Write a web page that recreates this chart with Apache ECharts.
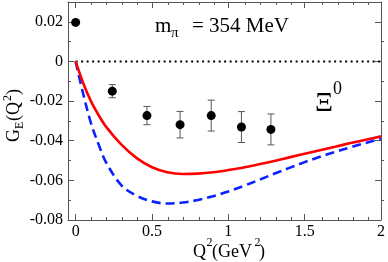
<!DOCTYPE html>
<html><head><meta charset="utf-8">
<script src="https://cdn.jsdelivr.net/npm/echarts@6/dist/echarts.min.js"></script>
<style>html,body{margin:0;padding:0;background:#fff}#c{width:388px;height:262px}</style>
</head><body><div id="c"></div>
<script>
// ---- data ----
const curveQ2 = [0,0.05,0.1,0.15,0.2,0.3,0.4,0.5,0.6,0.7,0.8,0.9,1.0,1.1,1.2,1.3,1.4,1.5,1.6,1.7,1.8,1.9,2.0];
const redGE  = [0,-0.011,-0.020,-0.027,-0.033,-0.042,-0.0488,-0.0534,-0.0559,-0.0568,-0.0566,-0.0559,-0.0548,-0.0535,-0.0519,-0.0502,-0.0484,-0.0466,-0.0448,-0.0430,-0.0412,-0.0395,-0.0378];
const blueGE = [0,-0.0165,-0.031,-0.0418,-0.051,-0.0625,-0.0678,-0.0706,-0.0717,-0.0712,-0.0699,-0.0680,-0.0656,-0.0628,-0.0598,-0.0567,-0.0537,-0.0508,-0.0481,-0.0456,-0.0433,-0.0411,-0.0391];
const latticeQ2  = [0, 0.24, 0.467, 0.684, 0.888, 1.086, 1.279];
const latticeGE  = [0.0197, -0.0150, -0.0273, -0.0319, -0.0273, -0.0331, -0.0343];
const latticeErr = [0.0005, 0.0033, 0.0046, 0.0067, 0.0078, 0.0078, 0.0078];
const zeroLineQ2 = [0, 2];
const xMajor = [0, 0.5, 1, 1.5, 2];
const xMinor = [0.1,0.2,0.3,0.4,0.6,0.7,0.8,0.9,1.1,1.2,1.3,1.4,1.6,1.7,1.8,1.9];
const yMajor = [-0.08,-0.06,-0.04,-0.02,0,0.02];
const yMinor = [-0.07,-0.05,-0.03,-0.01,0.01];
const xRange = [-0.05, 2];
const yRange = [-0.08, 0.03];

const chart = echarts.init(document.getElementById('c'), null, {renderer:'canvas'});
const FONT = '"Liberation Serif","Times New Roman",serif';
const AX = '#555';
const gridRect = {left:68, right:4, top:2, bottom:42, containLabel:false};
const fmt = v => String(parseFloat(Number(v).toFixed(3)));

function xAx(grid, pos, major) {
  return {
    type:'value', gridIndex:grid, position:pos, min:xRange[0], max:xRange[1],
    axisLine:{show:major, onZero:false, lineStyle:{color:AX, width:1}},
    axisTick:{show:true, inside:true, length: major?6:3, lineStyle:{color:AX}, customValues: major?xMajor:xMinor},
    axisLabel:{show: major && pos==='bottom', customValues:xMajor, formatter:fmt, color:'#000', fontFamily:FONT, fontSize:16, margin:4},
    splitLine:{show:false}
  };
}
function yAx(grid, pos, major) {
  return {
    type:'value', gridIndex:grid, position:pos, min:yRange[0], max:yRange[1],
    axisLine:{show:major, onZero:false, lineStyle:{color:AX, width:1}},
    axisTick:{show:true, inside:true, length: major?6:3, lineStyle:{color:AX}, customValues: major?yMajor:yMinor},
    axisLabel:{show: major && pos==='left', customValues:yMajor, formatter:fmt, color:'#000', fontFamily:FONT, fontSize:16, margin:5},
    splitLine:{show:false}
  };
}

const redData = curveQ2.map((x,i)=>[x, redGE[i]]);
const blueData = curveQ2.map((x,i)=>[x, blueGE[i]]);
const ptsData = latticeQ2.map((x,i)=>[x, latticeGE[i]]);
const errData = latticeQ2.map((x,i)=>[x, latticeGE[i], latticeErr[i]]);

function txt(x, y, s, size, extra) {
  return Object.assign({type:'text', x:x, y:y, style:{text:s, font: size+'px '+FONT, fill:'#000', textAlign:'left', textVerticalAlign:'middle', verticalAlign:'middle'}}, extra||{});
}

chart.setOption({
  animation:false,
  backgroundColor:'#fff',
  grid:[gridRect, Object.assign({}, gridRect)],
  xAxis:[xAx(0,'bottom',true), xAx(0,'top',true), xAx(1,'bottom',false), xAx(1,'top',false)],
  yAxis:[yAx(0,'left',true), yAx(0,'right',true), yAx(1,'left',false), yAx(1,'right',false)],
  series:[
    {type:'line', xAxisIndex:0, yAxisIndex:0, data: zeroLineQ2.map(x=>[x,0]), symbol:'none',
     lineStyle:{color:'#000', width:2, type:[2,3.5]}, z:1},
    {type:'line', xAxisIndex:0, yAxisIndex:0, data: blueData, symbol:'none', smooth:0.35,
     lineStyle:{color:'#0a22ff', width:2.6, type:[9,5]}, z:2},
    {type:'line', xAxisIndex:0, yAxisIndex:0, data: redData, symbol:'none', smooth:0.35,
     lineStyle:{color:'#ff0000', width:2.6}, z:3},
    {type:'custom', xAxisIndex:0, yAxisIndex:0, data: errData, z:4,
     renderItem:function(params, api){
       const x = api.value(0), y = api.value(1), e = api.value(2);
       const t = api.coord([x, y+e]), b = api.coord([x, y-e]);
       const c = 3.5;
       const st = {stroke:'#555', lineWidth:1};
       return {type:'group', children:[
         {type:'line', shape:{x1:t[0], y1:t[1], x2:b[0], y2:b[1]}, style:st},
         {type:'line', shape:{x1:t[0]-c, y1:t[1], x2:t[0]+c, y2:t[1]}, style:st},
         {type:'line', shape:{x1:b[0]-c, y1:b[1], x2:b[0]+c, y2:b[1]}, style:st}
       ]};
     }},
    {type:'scatter', xAxisIndex:0, yAxisIndex:0, data: ptsData, symbol:'circle', symbolSize:9,
     itemStyle:{color:'#000', opacity:1}, z:5}
  ],
  graphic:[
    txt(155, 26.5, 'm', 21),
    txt(171, 33, 'π', 15),
    txt(192, 26.5, '= 354 MeV', 21),
    txt(315, 103.5, 'Ξ', 28),
    txt(333, 89, '0', 18),
    txt(193, 252, 'Q', 18),
    txt(206.5, 243, '2', 12),
    txt(212, 252, '(GeV', 18),
    txt(254.5, 243, '2', 12),
    txt(259, 252, ')', 18),
    {type:'group', x:20, y:142, rotation:Math.PI/2, children:[
      txt(0, -6, 'G', 18),
      txt(13, 0, 'E', 12),
      txt(21, -6, '(Q', 18),
      txt(41, -12, '2', 12),
      txt(47, -6, ')', 18)
    ]}
  ]
});
</script></body></html>
